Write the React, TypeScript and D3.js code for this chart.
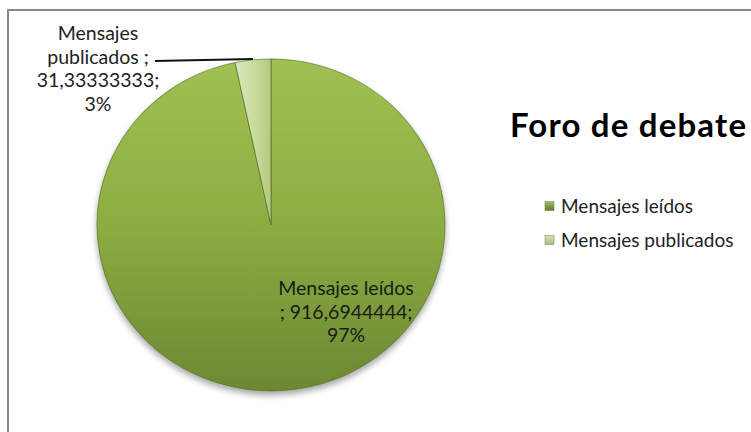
import React from "react";
import * as d3 from "d3";

const categories = ["Mensajes leídos", "Mensajes publicados"];
const values = [916.6944444, 31.33333333];
const percentLabels = ["97%", "3%"];
const valueLabels = ["916,6944444", "31,33333333"];
const title = "Foro de debate";

const W = 751;
const H = 432;
const FONT = "Lato, 'Open Sans', sans-serif";

export default function App() {
  const cx = 271;
  const cy = 225;
  const r = 166;
  const sx = 174 / 166;

  const pie = d3.pie<number>().sort(null).value((d) => d).startAngle(0).endAngle(2 * Math.PI);
  const arcs = pie(values);
  const arc = d3.arc<d3.PieArcDatum<number>>().innerRadius(0).outerRadius(r);

  const fills = ["url(#gMain)", "url(#gLight)"];

  const small = arcs[1];
  const midA = (small.startAngle + small.endAngle) / 2;
  const ex = cx + Math.sin(midA) * r * sx;
  const ey = cy - Math.cos(midA) * r - 1;

  const legendY = [206, 240];
  const swatchFills = ["url(#sw0)", "url(#sw1)"];

  return (
    <svg width={W} height={H} style={{ position: "absolute", left: 0, top: 0 }} xmlns="http://www.w3.org/2000/svg">
      <defs>
        <linearGradient id="gMain" x1="0" y1="0" x2="0" y2="1">
          <stop offset="0" stopColor="#a0c152" />
          <stop offset="0.5" stopColor="#8cad41" />
          <stop offset="1" stopColor="#6c8833" />
        </linearGradient>
        <linearGradient id="gLight" x1="0" y1="0" x2="1" y2="0">
          <stop offset="0" stopColor="#dbe8bd" />
          <stop offset="0.6" stopColor="#c6da99" />
          <stop offset="1" stopColor="#b3c980" />
        </linearGradient>
        <linearGradient id="sw0" x1="0" y1="0" x2="0" y2="1">
          <stop offset="0" stopColor="#a5c45e" />
          <stop offset="1" stopColor="#5f7a28" />
        </linearGradient>
        <linearGradient id="sw1" x1="0" y1="0" x2="0" y2="1">
          <stop offset="0" stopColor="#dbe7c0" />
          <stop offset="1" stopColor="#a9bd7d" />
        </linearGradient>
        <filter id="shadow" x="-20%" y="-20%" width="140%" height="150%">
          <feGaussianBlur in="SourceAlpha" stdDeviation="3" />
          <feOffset dx="0" dy="4" result="ob" />
          <feComponentTransfer>
            <feFuncA type="linear" slope="0.35" />
          </feComponentTransfer>
          <feMerge>
            <feMergeNode />
            <feMergeNode in="SourceGraphic" />
          </feMerge>
        </filter>
      </defs>
      <rect x={0} y={0} width={W} height={H} fill="#ffffff" />
      <rect x={8} y={10} width={W + 10} height={H + 10} fill="none" stroke="#878787" strokeWidth={2} />

      <g transform={`translate(${cx},${cy}) scale(${sx},1)`} filter="url(#shadow)">
        {arcs.map((a, i) => (
          <path key={i} d={arc(a) || ""} fill={fills[i]} stroke="#4d6120" strokeOpacity={0.55} strokeWidth={1} />
        ))}
      </g>

      <line x1={155} y1={ey + 2} x2={ex} y2={ey} stroke="#111" strokeWidth={2} />

      <text fontFamily={FONT} fontSize={19.5} fill="#222" textAnchor="middle">
        <tspan x={98} y={40}>Mensajes</tspan>
        <tspan x={98} y={63.5}>{`publicados ;`}</tspan>
        <tspan x={98} y={87}>{`${valueLabels[1]};`}</tspan>
        <tspan x={98} y={110.5}>{percentLabels[1]}</tspan>
      </text>

      <text fontFamily={FONT} fontSize={19.5} fill="#1a1a1a" textAnchor="middle">
        <tspan x={346} y={295}>{categories[0]}</tspan>
        <tspan x={346} y={318.5}>{`; ${valueLabels[0]};`}</tspan>
        <tspan x={346} y={342}>{percentLabels[0]}</tspan>
      </text>

      <text x={510} y={137} fontFamily={FONT} fontSize={33} fontWeight="bold" fill="#000" textLength={236} lengthAdjust="spacing">
        {title}
      </text>

      {categories.map((c, i) => (
        <g key={c}>
          <rect x={545} y={legendY[i] - 4.5} width={9} height={9} fill={swatchFills[i]} stroke="#6b7d4a" strokeWidth={0.5} />
          <text x={561} y={legendY[i] + 6.5} fontFamily={FONT} fontSize={19} fill="#222">
            {c}
          </text>
        </g>
      ))}
    </svg>
  );
}
